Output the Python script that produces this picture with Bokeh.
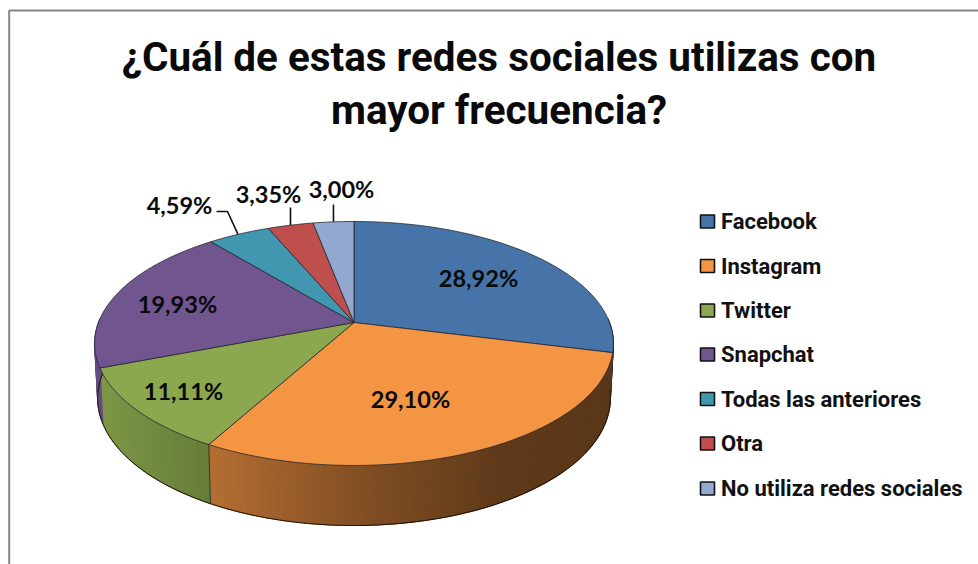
import numpy as np
from bokeh.plotting import figure
from bokeh.models import Range1d
from bokeh.core.properties import value
from bokeh.embed import file_html
from bokeh.resources import INLINE

# ---- data
title_lines = ["¿Cuál de estas redes sociales utilizas con", "mayor frecuencia?"]
categories = ["Facebook", "Instagram", "Twitter", "Snapchat", "Todas las anteriores", "Otra", "No utiliza redes sociales"]
values = [28.92, 29.10, 11.11, 19.93, 4.59, 3.35, 3.00]
labels = ["28,92%", "29,10%", "11,11%", "19,93%", "4,59%", "3,35%", "3,00%"]
colors = ["#4674A8", "#F49544", "#8BA84E", "#71558F", "#4197AF", "#BF4F4C", "#92A8CF"]

# ---- layout (page pixels)
label_x = [478, 410, 183, 177, 179, 268, 341]
label_y = [277, 398, 390, 303, 204, 193, 188]
legend_y = [221, 265.5, 310, 354, 398.5, 443, 488]
CX = 353.5; TOP_B = 322; TOP_A = 63; TOP_RX = 255.5
BOT_B = 375.7; BOT_A = 59; BOT_RX = 252.5; PERSP = -0.172

W, H = 978, 564
p = figure(width=W, height=H, x_range=Range1d(0, W), y_range=Range1d(H, 0),
           output_backend="svg", toolbar_location=None, min_border=0)
p.axis.visible = False
p.grid.visible = False
p.outline_line_color = None
p.background_fill_color = "white"
p.border_fill_color = "white"


def project(theta, a, b, rx):
    """theta in degrees clockwise from the top of the pie."""
    t = np.radians(theta)
    u, v = np.sin(t), -np.cos(t)
    den = 1 + PERSP * v
    return CX + rx * u / den, (a * v + b) / den


def top(theta):
    return project(theta, TOP_A, TOP_B, TOP_RX)


def bottom(theta):
    return project(theta, BOT_A, BOT_B, BOT_RX)


def shade(hex_color, f):
    r, g, b = (int(hex_color[i:i + 2], 16) for i in (1, 3, 5))
    return "#%02x%02x%02x" % (int(r * f), int(g * f), int(b * f))


cum = np.concatenate([[0], np.cumsum(values)])
cum = cum / cum[-1] * 360.0

# frame
p.line([8.7, 8.7, W], [H, 10, 10], line_color="#868686", line_width=2)

# side wall, as narrow strips shaded by horizontal position
wx, wy, wc = [], [], []
for i, col in enumerate(colors):
    a0, a1 = max(cum[i], 88.0), min(cum[i + 1], 272.0)
    if a1 <= a0:
        continue
    n = max(2, int((a1 - a0) / 1.5))
    th = np.linspace(a0, a1, n + 1)
    for t0, t1 in zip(th[:-1], th[1:]):
        x0, y0 = top(t0); x1, y1 = top(t1)
        x2, y2 = bottom(t1); x3, y3 = bottom(t0)
        xm = (x0 + x1 + x2 + x3) / 4
        f = np.interp(xm, [100, 210, 370, 500, 620], [0.90, 0.74, 0.52, 0.39, 0.37])
        wx.append([x0, x1, x2, x3]); wy.append([y0, y1, y2, y3]); wc.append(shade(col, f))
p.patches(wx, wy, fill_color=wc, line_color=wc, line_width=1.2)

# wall edges
th = np.linspace(cum[0] + 96, 272, 300)
bx, by = bottom(th)
p.line(bx, by, line_color="#1c1208", line_width=1)
for ang in [cum[2]]:
    ex0, ey0 = top(ang); ex1, ey1 = bottom(ang)
    p.line([ex0, ex1], [ey0, ey1], line_color="#2a2a20", line_width=0.8)

# top faces
for i, col in enumerate(colors):
    th = np.linspace(cum[i], cum[i + 1], max(8, int((cum[i + 1] - cum[i]) * 2)))
    ex, ey = top(th)
    p.patch(np.concatenate([[CX], ex]), np.concatenate([[TOP_B], ey]),
            fill_color=col, line_color="#262630", line_width=0.8, line_join="round")

# leader lines for the three outer labels
mid = (cum[:-1] + cum[1:]) / 2
lx, ly = top(mid[4])
p.line([216, 227, lx - 1], [211, 211, ly], line_color="#111111", line_width=1.6)
lx, ly = top(mid[5])
p.line([lx, lx], [207, ly], line_color="#111111", line_width=1.6)
lx, ly = top(mid[6])
p.line([lx, lx], [204, ly], line_color="#111111", line_width=1.6)

# data labels
p.text(label_x, label_y, text=labels, text_font=value("Lato"), text_font_style="bold",
       text_font_size="23.5px", text_color="#0a0a0a", text_align="center", text_baseline="middle")

# title
p.text([498.5, 498.5], [57, 110], text=title_lines, text_font=value("Roboto"),
       text_font_style="bold", text_font_size="40.4px", text_color="#0a0a0a",
       text_align="center", text_baseline="middle")

# legend
p.rect([707] * 7, legend_y, width=[14] * 7, height=[13] * 7, fill_color=colors,
       line_color="#111111", line_width=1.6)
p.text([720.5] * 7, legend_y, text=categories, text_font=value("Roboto"),
       text_font_style="bold", text_font_size="22px", text_color="#111111",
       text_align="left", text_baseline="middle")

open("out.html", "w").write(file_html(p, INLINE))
